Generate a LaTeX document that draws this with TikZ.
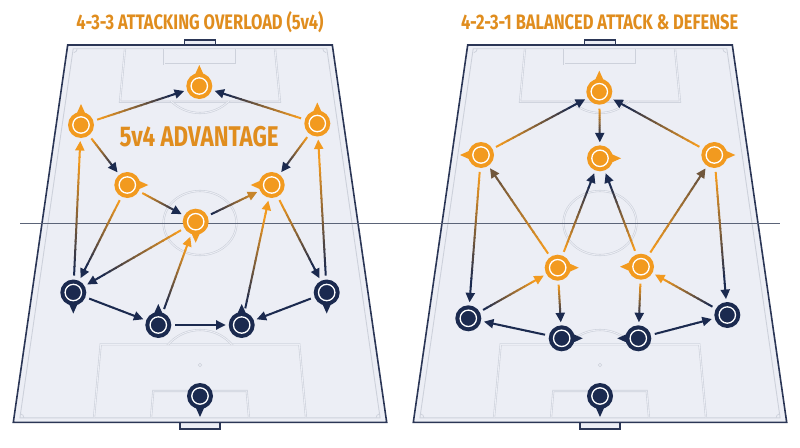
\documentclass[tikz,border=0pt]{standalone}
\usepackage{fontspec}
\setmainfont{Fira Sans}
\newfontfamily\condf[FakeStretch=0.785]{Fira Sans}
\usetikzlibrary{calc,arrows.meta}
\definecolor{orangec}{HTML}{F29A1F}
\definecolor{titlec}{HTML}{E08D1E}
\definecolor{navyc}{HTML}{1B2A4F}
\definecolor{pitchc}{HTML}{ECEEF5}
\definecolor{linec}{HTML}{2B3656}
\definecolor{markc}{HTML}{CDD1DB}
\definecolor{midc}{HTML}{5B6478}
\tikzset{
  omark/.style={circle, fill=orangec, minimum size=26pt, inner sep=0pt,
    path picture={\draw[white,line width=1.3pt] (path picture bounding box.center) circle (8.2pt);}},
  nmark/.style={circle, fill=navyc, minimum size=26pt, inner sep=0pt,
    path picture={\draw[white,line width=1.3pt] (path picture bounding box.center) circle (8.2pt);}},
  pmark/.style={draw=markc, line width=0.6pt, double=pitchc, double distance=0.9pt},
  titletext/.style={text=titlec, font=\condf\bfseries\fontsize{21}{21}\selectfont, inner sep=0pt},
  bigtext/.style={text=titlec, font=\condf\bfseries\fontsize{28.5}{28.5}\selectfont, inner sep=0pt},
}
\newcommand\ptr[3]{\fill[#3] ($(#1.center)+(#2:21pt)$) -- ($(#1.center)+(#2:11pt)+(#2+90:4.5pt)$) -- ($(#1.center)+(#2:11pt)+(#2-90:4.5pt)$) -- cycle;}
\newcommand\garr[4]{%
  \path ($(#1)!17pt!(#2)$) coordinate (ga) ($(#2)!16pt!(#1)$) coordinate (gb);
  \foreach \i in {0,...,13}{%
    \pgfmathtruncatemacro\pc{100*\i/13}%
    \pgfmathsetmacro\ta{\i/16}%
    \pgfmathsetmacro\tb{(\i+1.15)/16}%
    \draw[line width=2pt, color=#4!\pc!#3] ($(ga)!\ta!(gb)$) -- ($(ga)!\tb!(gb)$);
  }
  \draw[line width=2pt, #4, -{Triangle[length=9.5pt,width=9pt]}] ($(ga)!0.875!(gb)$) -- (gb);
}
\newcommand\pitch[1]{%
\begin{scope}[xshift=#1pt]
  \filldraw[fill=pitchc, draw=linec, line width=1.2pt] (184.3,-40) rectangle (215.7,-45);
  \filldraw[fill=pitchc, draw=linec, line width=1.2pt] (180,-422.3) rectangle (220,-429);
  \filldraw[fill=pitchc, draw=linec, line width=1.6pt] (67.7,-45) -- (332.3,-45) -- (386.7,-422.3) -- (13.3,-422.3) -- cycle;
  \draw[markc, line width=0.9pt] (73.2,-48.7) -- (326.8,-48.7) -- (380.1,-417.8) -- (19.9,-417.8) -- cycle;
  \draw[pmark] (125,-48.7) -- (120,-101.7) -- (280,-101.7) -- (275,-48.7);
  \draw[pmark] (164,-48.7) -- (164,-64.3) -- (236,-64.3) -- (236,-48.7);
  \begin{scope}\clip (100,-101.7) rectangle (300,-130); \draw[pmark] (200,-72) circle (41); \end{scope}
  \draw[pmark] (94,-417.8) -- (100.7,-344.3) -- (299.3,-344.3) -- (306,-417.8);
  \draw[pmark] (151,-417.8) -- (153.3,-391) -- (246.7,-391) -- (249,-417.8);
  \begin{scope}\clip (100,-344.3) rectangle (300,-320); \draw[pmark] (200,-372) circle (42); \end{scope}
  \draw[markc, line width=0.6pt] (200,-365) circle (1.8);
  \draw[pmark] (200,-223) ellipse [x radius=36.5, y radius=32];
  \draw[markc, line width=0.7pt] (77.2,-48.7) arc[start angle=0, end angle=-80, radius=4];
  \draw[markc, line width=0.7pt] (322.8,-48.7) arc[start angle=180, end angle=260, radius=4];
  \draw[markc, line width=0.7pt] (23.9,-417.8) arc[start angle=0, end angle=80, radius=4];
  \draw[markc, line width=0.7pt] (376.1,-417.8) arc[start angle=180, end angle=100, radius=4];
\end{scope}}
\begin{document}
\begin{tikzpicture}[x=1pt,y=1pt]
\useasboundingbox (0,0) rectangle (800,-447);
\fill[white] (0,0) rectangle (800,-447);
\pitch{0}
\pitch{400}
\draw[midc, line width=1pt] (20,-223) -- (780,-223);
% titles
\node[titletext] (t1) at (200,-22.3) {4-3-3 ATTACKING OVERLOAD (5v4)};
\node[titletext] (t2) at (599.7,-22.3) {4-2-3-1 BALANCED ATTACK \& DEFENSE};
\node[bigtext] (adv) at (199.2,-137) {5v4 ADVANTAGE};
% left players
\node[omark] (lst) at (199.3,-86) {};
\node[omark] (llw) at (81,-125) {};
\node[omark] (lrw) at (317.3,-123.5) {};
\node[omark] (llcm) at (127.3,-185) {};
\node[omark] (lrcm) at (271.7,-185) {};
\node[omark] (lcm) at (195.7,-221.7) {};
\node[nmark] (llb) at (73.3,-292.5) {};
\node[nmark] (llcb) at (158.3,-325) {};
\node[nmark] (lrcb) at (241.7,-325) {};
\node[nmark] (lrb) at (326.7,-292.5) {};
\node[nmark] (lgk) at (200,-396) {};
\ptr{lst}{90}{orangec}\ptr{llw}{90}{orangec}\ptr{lrw}{90}{orangec}
\ptr{llcm}{0}{orangec}\ptr{lrcm}{180}{orangec}\ptr{lcm}{-90}{orangec}
\ptr{llb}{-90}{navyc}\ptr{llcb}{90}{navyc}\ptr{lrcb}{90}{navyc}\ptr{lrb}{-90}{navyc}\ptr{lgk}{-90}{navyc}
% left arrows
\garr{llw}{lst}{orangec}{navyc}
\garr{lrw}{lst}{orangec}{navyc}
\garr{llw}{llcm}{orangec}{navyc}
\garr{lrw}{lrcm}{orangec}{navyc}
\garr{llcm}{lcm}{orangec}{navyc}
\garr{lcm}{lrcm}{navyc}{orangec!80!navyc}
\garr{llb}{llw}{navyc}{orangec}
\garr{lrb}{lrw}{navyc}{orangec}
\garr{llcm}{llb}{orangec}{navyc}
\garr{lcm}{llb}{orangec}{navyc}
\garr{llcb}{lcm}{navyc}{orangec}
\garr{lrcb}{lrcm}{navyc}{orangec}
\garr{lrcm}{lrb}{orangec}{navyc}
\garr{llb}{llcb}{navyc}{navyc}
\garr{llcb}{lrcb}{navyc}{navyc}
\garr{lrb}{lrcb}{navyc}{navyc}
% right players
\node[omark] (rst) at (599.3,-91.7) {};
\node[omark] (rlam) at (481,-155) {};
\node[omark] (rcam) at (600,-158.3) {};
\node[omark] (rram) at (714.3,-155) {};
\node[omark] (rldm) at (557.7,-267.7) {};
\node[omark] (rrdm) at (641,-266.7) {};
\node[nmark] (rlb) at (468.3,-318.3) {};
\node[nmark] (rlcb) at (561.7,-338.3) {};
\node[nmark] (rrcb) at (638.3,-338.3) {};
\node[nmark] (rrb) at (727.3,-315) {};
\node[nmark] (rgk) at (600,-396) {};
\ptr{rst}{90}{orangec}\ptr{rlam}{180}{orangec}\ptr{rcam}{0}{orangec}\ptr{rram}{0}{orangec}
\ptr{rldm}{0}{orangec}\ptr{rrdm}{180}{orangec}
\ptr{rlcb}{0}{navyc}\ptr{rrcb}{180}{navyc}\ptr{rgk}{-90}{navyc}
% right arrows
\garr{rlam}{rst}{orangec}{navyc}
\garr{rram}{rst}{orangec}{navyc}
\garr{rst}{rcam}{orangec}{navyc}
\garr{rldm}{rlam}{orangec}{navyc!60!orangec}
\garr{rldm}{rcam}{orangec}{navyc}
\garr{rrdm}{rcam}{orangec}{navyc}
\garr{rrdm}{rram}{orangec}{navyc!60!orangec}
\garr{rlam}{rlb}{orangec}{navyc}
\garr{rram}{rrb}{orangec}{navyc}
\garr{rlb}{rldm}{navyc}{orangec}
\garr{rrb}{rrdm}{navyc}{orangec}
\garr{rldm}{rlcb}{orangec}{navyc}
\garr{rrdm}{rrcb}{orangec}{navyc}
\garr{rlcb}{rlb}{navyc}{navyc}
\garr{rrcb}{rrb}{navyc}{navyc}
\end{tikzpicture}
\end{document}
